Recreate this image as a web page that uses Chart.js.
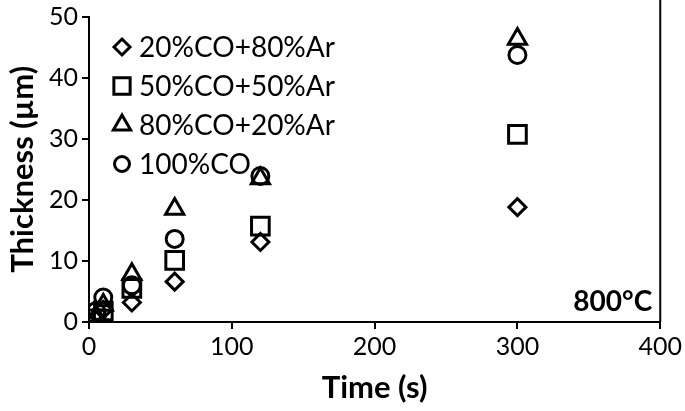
<!DOCTYPE html>
<html>
<head>
<meta charset="utf-8">
<script src="https://cdn.jsdelivr.net/npm/chart.js@4.4.1/dist/chart.umd.min.js"></script>
<style>
  html, body { margin: 0; padding: 0; background: #fff; }
  #wrap { width: 685px; height: 411px; }
</style>
</head>
<body>
<div id="wrap"><canvas id="chart" width="685" height="411"></canvas></div>
<script>
// times in seconds
const times = [5, 10, 30, 60, 120, 300];
const seriesNames = ["20%CO+80%Ar", "50%CO+50%Ar", "80%CO+20%Ar", "100%CO"];
// thickness values (µm)
const co20 = [0.3, 2.0, 3.2, 6.6, 13.1, 18.8];
const co50 = [0.5, 1.8, 5.5, 10.1, 15.7, 30.7];
const co80 = [1.0, 2.8, 7.8, 18.5, 23.5, 46.3];
const co100 = [1.8, 4.0, 6.0, 13.6, 23.9, 43.7];
const xTicks = [0, 100, 200, 300, 400];
const yTicks = [0, 10, 20, 30, 40, 50];

const FONT = "Lato, 'Open Sans', sans-serif";
const styles = ["rectRot", "rect", "triangle", "circle"];
const radii = [8.5, 12.5, 10.5, 8.5];
const allValues = [co20, co50, co80, co100];

const datasets = allValues.map((vals, i) => ({
  label: seriesNames[i],
  data: times.map((t, j) => ({ x: t, y: vals[j] })),
  pointStyle: styles[i],
  pointRadius: radii[i],
  pointHoverRadius: radii[i],
  pointBorderWidth: 3,
  borderColor: "#000",
  backgroundColor: "rgba(0,0,0,0)",
  showLine: false,
}));

// legend inside plot area + right border + temperature label
const extras = {
  id: "extras",
  afterDraw(chart) {
    const ctx = chart.ctx;
    const a = chart.chartArea;
    ctx.save();
    ctx.strokeStyle = "#000";
    ctx.lineWidth = 2;
    ctx.beginPath();
    ctx.moveTo(a.right, 0);
    ctx.lineTo(a.right, a.bottom);
    ctx.stroke();

    chart.data.datasets.forEach((ds, i) => {
      const y = 47 + i * 39;
      ctx.lineWidth = 3;
      ctx.strokeStyle = "#000";
      ctx.fillStyle = "rgba(0,0,0,0)";
      Chart.helpers.drawPoint(ctx, {
        pointStyle: ds.pointStyle,
        radius: [8, 11.5, 10, 7.5][i],
        rotation: 0,
        borderWidth: 3,
      }, 122, y);
      ctx.fillStyle = "#000";
      ctx.font = "28px " + FONT;
      ctx.textBaseline = "middle";
      ctx.fillText(ds.label, 139, y + 1);
    });

    ctx.font = "bold 28px " + FONT;
    ctx.textAlign = "right";
    ctx.textBaseline = "alphabetic";
    ctx.fillText("800°C", a.right - 8, a.bottom - 11);
    ctx.restore();
  },
};

new Chart(document.getElementById("chart"), {
  type: "scatter",
  data: { datasets: datasets },
  plugins: [extras],
  options: {
    responsive: false,
    animation: false,
    layout: { padding: { top: 14, right: 20, left: 0, bottom: 0 } },
    plugins: {
      legend: { display: false },
      tooltip: { enabled: false },
    },
    scales: {
      x: {
        type: "linear",
        min: 0,
        max: 400,
        afterBuildTicks: (s) => { s.ticks = xTicks.map((v) => ({ value: v })); },
        afterFit: (s) => { s.height = 89; },
        grid: { drawOnChartArea: false, drawTicks: true, tickLength: 7, color: "#000", lineWidth: 2 },
        border: { color: "#000", width: 2 },
        ticks: { color: "#000", font: { family: FONT, size: 25 }, padding: 3, maxRotation: 0 },
        title: {
          display: true,
          text: "Time (s)",
          color: "#000",
          font: { family: FONT, size: 31, weight: "bold" },
          padding: { top: 2 },
        },
      },
      y: {
        min: 0,
        max: 50,
        afterBuildTicks: (s) => { s.ticks = yTicks.map((v) => ({ value: v })); },
        afterFit: (s) => { s.width = 89; },
        grid: { drawOnChartArea: false, drawTicks: true, tickLength: 7, color: "#000", lineWidth: 2 },
        border: { color: "#000", width: 2 },
        ticks: { color: "#000", font: { family: FONT, size: 25, lineHeight: 1 }, padding: 4 },
        title: {
          display: true,
          text: "Thickness (µm)",
          color: "#000",
          font: { family: FONT, size: 31, weight: "bold" },
          padding: { bottom: 2 },
        },
      },
    },
  },
});
</script>
</body>
</html>
